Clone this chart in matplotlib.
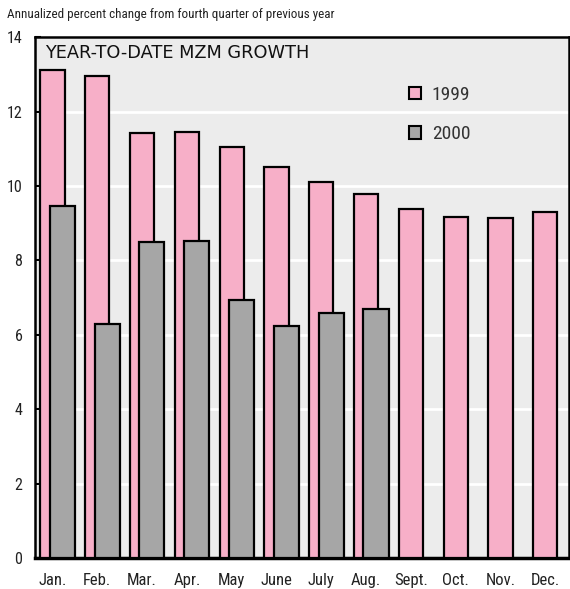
import matplotlib.pyplot as plt
from matplotlib.patches import Patch
from matplotlib import font_manager

# datos
meses = ['Jan.', 'Feb.', 'Mar.', 'Apr.', 'May', 'June', 'July', 'Aug.', 'Sept.', 'Oct.', 'Nov.', 'Dec.']
crec_1999 = [13.12, 12.95, 11.44, 11.45, 11.05, 10.51, 10.12, 9.80, 9.39, 9.18, 9.13, 9.31]
crec_2000 = [9.46, 6.29, 8.49, 8.53, 6.93, 6.25, 6.58, 6.70]

rosa = '#f7afc8'
gris = '#a6a6a6'
fondo = '#ececec'

# buscar una fuente estrecha instalada
nombres = sorted(set(f.name for f in font_manager.fontManager.ttflist))
narrow = ['DejaVu Sans']
for n in ['Liberation Sans Narrow', 'DejaVu Sans Condensed', 'Roboto Condensed', 'Open Sans Condensed']:
    if n in nombres:
        narrow = [n, 'DejaVu Sans']
        break

fig = plt.figure(figsize=(5.7, 5.89), dpi=100)
ax = fig.add_axes([0.0614, 0.0526, 0.937, 0.884])
ax.set_facecolor(fondo)

x = list(range(len(meses)))
ax.bar(x, crec_1999, width=0.54, color=rosa, edgecolor='black', linewidth=1.6, zorder=3)
x2 = [i + 0.22 for i in range(len(crec_2000))]
ax.bar(x2, crec_2000, width=0.56, color=gris, edgecolor='black', linewidth=1.6, zorder=4)

ax.set_ylim(0, 14)
ax.set_xlim(-0.39, 11.53)
ax.set_yticks(range(0, 15, 2))
ax.yaxis.grid(True, color='white', linewidth=2, zorder=1)
ax.set_axisbelow(True)

ax.set_xticks(x)
ax.set_xticklabels(meses, family=narrow, stretch='condensed', fontsize=12, color='#222222')
for lbl in ax.get_yticklabels():
    lbl.set_family(narrow)
    lbl.set_stretch('condensed')
ax.tick_params(axis='y', direction='in', length=4, width=1.5, labelsize=11.5, labelcolor='#222222', pad=9)
ax.tick_params(axis='x', length=0, pad=11)

for lado in ['left', 'top', 'right']:
    ax.spines[lado].set_linewidth(1.8)
ax.spines['bottom'].set_linewidth(2.5)

ax.text(0.018, 0.988, 'YEAR-TO-DATE MZM GROWTH', transform=ax.transAxes,
        fontsize=12.8, va='top', ha='left', color='#111111')

manijas = [Patch(facecolor=rosa, edgecolor='black', linewidth=1.5, label='1999'),
           Patch(facecolor=gris, edgecolor='black', linewidth=1.5, label='2000')]
ax.legend(handles=manijas, loc='upper left', bbox_to_anchor=(0.668, 0.94), frameon=False,
          handlelength=0.6, handleheight=0.6, labelspacing=1.1, handletextpad=0.55,
          labelcolor='#333333',
          prop={'family': narrow, 'stretch': 'condensed', 'size': 14})

fig.text(0.012, 0.975, 'Annualized percent change from fourth quarter of previous year',
         family=narrow, stretch='condensed', fontsize=9.4, va='center', ha='left', color='#222222')

fig.savefig('out.png', dpi=100)
